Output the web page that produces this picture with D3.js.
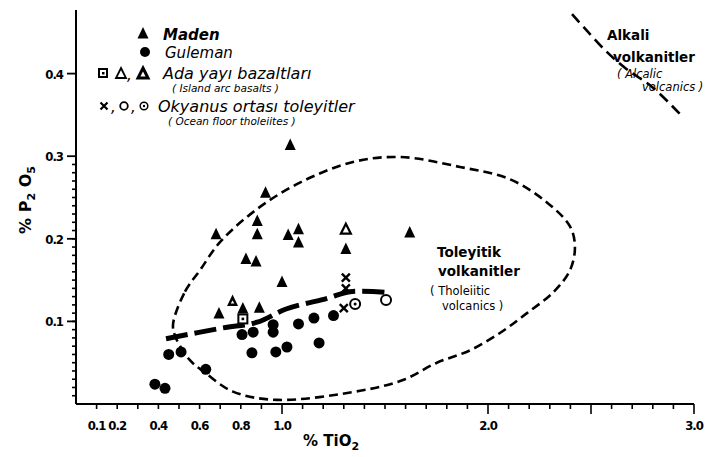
<!DOCTYPE html>
<html><head><meta charset="utf-8">
<script src="https://cdn.jsdelivr.net/npm/d3@7"></script>
<style>
body{margin:0;background:#fff;}
svg{display:block;}
.tick-lab{font-family:"DejaVu Sans Condensed","DejaVu Sans",sans-serif;font-stretch:condensed;font-weight:bold;font-size:13px;letter-spacing:-1px;}
.leg{font-family:"DejaVu Sans","Liberation Sans",sans-serif;font-style:italic;font-size:15px;}
.legs{font-family:"DejaVu Sans","Liberation Sans",sans-serif;font-style:italic;font-size:10.5px;}
.reg{font-family:"DejaVu Sans","Liberation Sans",sans-serif;font-weight:bold;font-size:13.5px;}
.regs{font-family:"DejaVu Sans","Liberation Sans",sans-serif;font-size:11.5px;}
</style></head>
<body>
<svg id="c" width="722" height="457"></svg>
<script>
// ---- data ----
const maden = [[1.04,0.313],[0.92,0.255],[0.68,0.205],[0.88,0.221],[0.88,0.205],[1.03,0.204],
  [1.08,0.211],[1.08,0.195],[1.31,0.187],[1.62,0.207],[0.825,0.175],[0.874,0.172],[1.0,0.147],
  [0.694,0.109],[0.81,0.115],[0.89,0.116]];
const guleman = [[0.383,0.024],[0.432,0.019],[0.45,0.060],[0.51,0.063],[0.63,0.042],[0.806,0.084],
  [0.86,0.087],[0.854,0.062],[0.957,0.096],[0.957,0.087],[0.97,0.063],[1.024,0.069],[1.08,0.097],
  [1.155,0.104],[1.25,0.107],[1.18,0.074]];
const islandArcSquare = [[0.81,0.103]];
const islandArcOpen = [[1.31,0.211]];
const islandArcThick = [[0.76,0.124]];
const oceanCross = [[1.31,0.153],[1.31,0.140],[1.30,0.116]];
const oceanCircle = [[1.505,0.126]];
const oceanDot = [[1.355,0.121]];
const trendLine = [[0.437,0.079],[0.71,0.092],[0.88,0.099],[1.02,0.115],[1.22,0.128],[1.33,0.136],[1.51,0.135]];
const tholeiiticField = [[0.471,0.096],[0.529,0.136],[0.602,0.162],[0.699,0.196],[0.879,0.236],[1.087,0.268],
  [1.345,0.293],[1.573,0.299],[1.864,0.287],[2.107,0.272],[2.286,0.244],[2.398,0.215],[2.422,0.190],
  [2.398,0.162],[2.316,0.135],[2.189,0.110],[2.058,0.086],[1.913,0.065],[1.752,0.050],[1.587,0.029],
  [1.379,0.016],[0.976,0.005],[0.762,0.015],[0.626,0.038],[0.553,0.053],[0.485,0.080]];
const alkaliLine = [[2.408,0.472],[2.480,0.452],[2.578,0.426],[2.675,0.405],[2.801,0.383],[2.947,0.347]];
const xTickLabels = [0.1,0.2,0.4,0.6,0.8,1.0,2.0,3.0];
const xMinorTicks = d3.range(1,31).map(i=>i/10);
const xMajorTicks = [1.0,2.0,2.5,3.0];
const yTickLabels = [0.1,0.2,0.3,0.4];
const yMinorTicks = d3.range(1,30).map(i=>i/100);

// ---- scales ----
const x = d3.scaleLinear().domain([0,3.0]).range([76,694]);
const y = d3.scaleLinear().domain([0,0.477]).range([404,10]);
const svg = d3.select("#c");
const g = svg.append("g");

// axes lines
g.append("line").attr("x1",x(0)).attr("x2",x(0)).attr("y1",y(0.477)).attr("y2",y(0)).attr("stroke","#000").attr("stroke-width",2);
g.append("line").attr("x1",x(0)).attr("x2",x(3.0)).attr("y1",y(0)).attr("y2",y(0)).attr("stroke","#000").attr("stroke-width",2);

// x ticks
g.selectAll(".xt").data(xMinorTicks).join("line")
  .attr("x1",d=>x(d)).attr("x2",d=>x(d)).attr("y1",y(0))
  .attr("y2",d=>y(0)+(xMajorTicks.some(m=>Math.abs(m-d)<1e-6)?10:5))
  .attr("stroke","#000").attr("stroke-width",1.6);
g.selectAll(".xl").data(xTickLabels).join("text").attr("class","tick-lab")
  .attr("x",d=>x(d)).attr("y",y(0)+26).attr("text-anchor","middle").text(d3.format(".1f"));

// y ticks
g.selectAll(".yt").data(yMinorTicks).join("line")
  .attr("x1",x(0)-4).attr("x2",x(0)).attr("y1",d=>y(d)).attr("y2",d=>y(d))
  .attr("stroke","#000").attr("stroke-width",1.6);
g.selectAll(".ytm").data(yTickLabels).join("line")
  .attr("x1",x(0)-9).attr("x2",x(0)).attr("y1",d=>y(d)).attr("y2",d=>y(d))
  .attr("stroke","#000").attr("stroke-width",1.8);
g.selectAll(".yl").data(yTickLabels).join("text").attr("class","tick-lab")
  .attr("x",x(0)-13).attr("y",d=>y(d)+5).attr("text-anchor","end").text(d3.format(".1f"));

// axis titles
const yt = g.append("text").attr("class","reg").style("font-size","16px")
  .attr("transform","translate(31,200) rotate(-90)").attr("text-anchor","middle");
yt.append("tspan").text("% P");
yt.append("tspan").attr("dy",4).style("font-size","11px").text("2");
yt.append("tspan").attr("dy",-4).text(" O");
yt.append("tspan").attr("dy",4).style("font-size","11px").text("5");
const xt = g.append("text").attr("class","reg").style("font-size","15px")
  .attr("x",303).attr("y",446);
xt.append("tspan").text("% TiO");
xt.append("tspan").attr("dy",4).style("font-size","11px").text("2");

// field boundaries
g.append("path").datum(tholeiiticField)
  .attr("d",d3.line().x(d=>x(d[0])).y(d=>y(d[1])).curve(d3.curveCatmullRomClosed.alpha(0.5)))
  .attr("fill","none").attr("stroke","#000").attr("stroke-width",2.6).attr("stroke-dasharray","9,5");
g.append("path").datum(alkaliLine)
  .attr("d",d3.line().x(d=>x(d[0])).y(d=>y(d[1])).curve(d3.curveCatmullRom))
  .attr("fill","none").attr("stroke","#000").attr("stroke-width",2.6).attr("stroke-dasharray","11,6");
g.append("path").datum(trendLine)
  .attr("d",d3.line().x(d=>x(d[0])).y(d=>y(d[1])).curve(d3.curveCatmullRom))
  .attr("fill","none").attr("stroke","#000").attr("stroke-width",5).attr("stroke-dasharray","22,7");

// symbols
const tri = "M0,-7L5.5,4.5L-5.5,4.5Z";
function pos(d){return `translate(${x(d[0])},${y(d[1])})`;}
g.selectAll(".m").data(maden).join("path").attr("d",tri).attr("transform",pos).attr("fill","#000");
g.selectAll(".gu").data(guleman).join("circle").attr("cx",d=>x(d[0])).attr("cy",d=>y(d[1])).attr("r",5.5).attr("fill","#000");
g.selectAll(".ias").data(islandArcSquare).join("g").attr("transform",pos).each(function(){
  const s=d3.select(this);
  s.append("rect").attr("x",-4.5).attr("y",-4.5).attr("width",9).attr("height",9).attr("fill","#fff").attr("stroke","#000").attr("stroke-width",2);
  s.append("rect").attr("x",-1.3).attr("y",-1.3).attr("width",2.6).attr("height",2.6).attr("fill","#000");
});
g.selectAll(".iao").data(islandArcOpen).join("path").attr("d","M0,-6L5,4L-5,4Z").attr("transform",pos)
  .attr("fill","#fff").attr("stroke","#000").attr("stroke-width",2.2);
g.selectAll(".iat").data(islandArcThick).join("g").attr("transform",pos).each(function(){
  const s=d3.select(this);
  s.append("path").attr("d",tri).attr("fill","#000");
  s.append("path").attr("d","M0,-1L1.8,2L-1.8,2Z").attr("fill","#fff");
});
g.selectAll(".oc").data(oceanCross).join("path").attr("d","M-4,-4L4,4M-4,4L4,-4").attr("transform",pos)
  .attr("stroke","#000").attr("stroke-width",2.4).attr("fill","none");
g.selectAll(".ocir").data(oceanCircle).join("circle").attr("cx",d=>x(d[0])).attr("cy",d=>y(d[1])).attr("r",5)
  .attr("fill","#fff").attr("stroke","#000").attr("stroke-width",2);
g.selectAll(".odot").data(oceanDot).join("g").attr("transform",pos).each(function(){
  const s=d3.select(this);
  s.append("circle").attr("r",5).attr("fill","#fff").attr("stroke","#000").attr("stroke-width",2);
  s.append("circle").attr("r",1.5).attr("fill","#000");
});

// legend
const L = g.append("g");
L.append("path").attr("d",tri).attr("transform","translate(143,34)").attr("fill","#000");
L.append("text").attr("class","leg").style("font-weight","bold").attr("x",163).attr("y",40).text("Maden");
L.append("circle").attr("cx",145).attr("cy",52).attr("r",5).attr("fill","#000");
L.append("text").attr("class","leg").attr("x",165).attr("y",58).text("Guleman");
L.append("rect").attr("x",99).attr("y",69).attr("width",8).attr("height",8).attr("fill","#fff").attr("stroke","#000").attr("stroke-width",2);
L.append("rect").attr("x",102).attr("y",72).attr("width",2.5).attr("height",2.5).attr("fill","#000");
L.append("path").attr("d","M0,-6L5,4L-5,4Z").attr("transform","translate(121,74)").attr("fill","#fff").attr("stroke","#000").attr("stroke-width",1.8);
L.append("text").attr("class","leg").attr("x",127).attr("y",80).text(",");
L.append("path").attr("d","M0,-6L5,4L-5,4Z").attr("transform","translate(143,74)").attr("fill","#fff").attr("stroke","#000").attr("stroke-width",3);
L.append("text").attr("class","leg").style("font-size","16px").attr("x",163).attr("y",79).text("Ada  yayı  bazaltları");
L.append("text").attr("class","legs").attr("x",172).attr("y",92).text("( Island arc  basalts )");
L.append("path").attr("d","M-3.5,-3.5L3.5,3.5M-3.5,3.5L3.5,-3.5").attr("transform","translate(104,106)").attr("stroke","#000").attr("stroke-width",2.2);
L.append("text").attr("class","leg").attr("x",111).attr("y",112).text(",");
L.append("circle").attr("cx",124).attr("cy",106).attr("r",3.8).attr("fill","#fff").attr("stroke","#000").attr("stroke-width",1.8);
L.append("text").attr("class","leg").attr("x",131).attr("y",112).text(",");
L.append("circle").attr("cx",144).attr("cy",106).attr("r",3.8).attr("fill","#fff").attr("stroke","#000").attr("stroke-width",1.5);
L.append("circle").attr("cx",144).attr("cy",106).attr("r",1.2).attr("fill","#000");
L.append("text").attr("class","leg").style("font-size","16px").attr("x",158).attr("y",112).text("Okyanus  ortası  toleyitler");
L.append("text").attr("class","legs").attr("x",168).attr("y",125).text("( Ocean  floor  tholeiites )");

// region labels
g.append("text").attr("class","reg").attr("x",437).attr("y",257).text("Toleyitik");
g.append("text").attr("class","reg").attr("x",438).attr("y",276).text("volkanitler");
g.append("text").attr("class","regs").attr("x",430).attr("y",295).text("( Tholeiitic");
g.append("text").attr("class","regs").attr("x",442).attr("y",310).text("volcanics )");
g.append("text").attr("class","reg").attr("x",607).attr("y",40).text("Alkali");
g.append("text").attr("class","reg").attr("x",613).attr("y",62).text("volkanitler");
g.append("text").attr("class","legs").style("font-size","11.5px").attr("x",617).attr("y",78).text("( Alcalic");
g.append("text").attr("class","legs").style("font-size","11.5px").attr("x",642).attr("y",91).text("volcanics )");
</script>
</body></html>
